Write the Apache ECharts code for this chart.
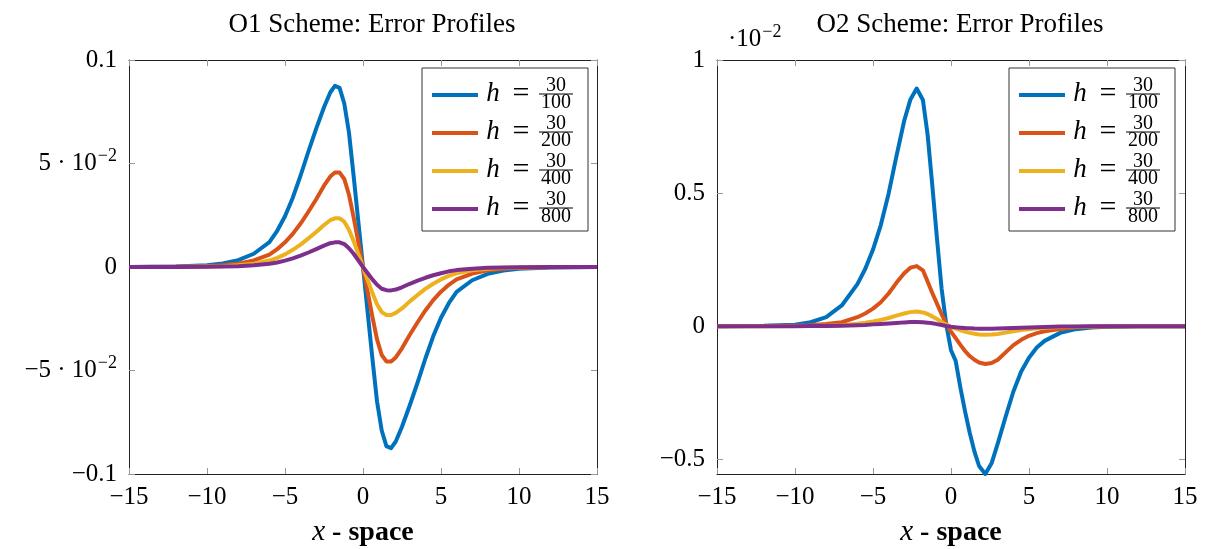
<!DOCTYPE html>
<html>
<head>
<meta charset="utf-8">
<script src="https://cdn.jsdelivr.net/npm/echarts@6/dist/echarts.min.js"></script>
<style>
html,body{margin:0;padding:0;background:#fff;}
#chart{width:1207px;height:549px;}
</style>
</head>
<body>
<div id="chart"></div>
<script>
// ---------- data ----------
const hNumerator = 30;
const hDenominators = [100, 200, 400, 800];
const seriesNames = hDenominators.map(d => 'h = ' + hNumerator + '/' + d);
const colors = ['#0072BD', '#D95319', '#EDB120', '#7E2F8E'];

const titles = ['O1 Scheme: Error Profiles', 'O2 Scheme: Error Profiles'];
const xTicks = [-15, -10, -5, 0, 5, 10, 15];
const o1YTicks = [-0.1, -0.05, 0, 0.05, 0.1];
const o2YTicks = [-0.5, 0, 0.5, 1];

// O1 scheme
const xO1 = [-15, -12, -10, -9, -8, -7, -6, -5.5, -5, -4.5, -4, -3.5, -3, -2.5, -2.1, -1.8, -1.5, -1.2, -0.9, -0.6, -0.3, 0,
  0.3, 0.6, 0.9, 1.2, 1.5, 1.8, 2.1, 2.5, 3, 3.5, 4, 4.5, 5, 5.5, 6, 7, 8, 9, 10, 12, 15];
const o1_h100 = [0, 0.0002, 0.0009, 0.0017, 0.0033, 0.0064, 0.012, 0.0175, 0.0245, 0.0335, 0.0442, 0.0558, 0.0668, 0.0772, 0.0843, 0.0875, 0.0865, 0.079, 0.065, 0.044, 0.022, 0,
  -0.022, -0.044, -0.065, -0.079, -0.0865, -0.0875, -0.0843, -0.0772, -0.0668, -0.0558, -0.0442, -0.0335, -0.0245, -0.0175, -0.012, -0.0064, -0.0033, -0.0017, -0.0009, -0.0002, 0];
const o1_h200 = [0, 0.0001, 0.0004, 0.0008, 0.0016, 0.0032, 0.006, 0.0086, 0.0119, 0.016, 0.021, 0.0267, 0.0327, 0.0393, 0.0437, 0.0457, 0.0456, 0.0425, 0.035, 0.024, 0.012, 0,
  -0.012, -0.024, -0.035, -0.0425, -0.0456, -0.0457, -0.0437, -0.0393, -0.0327, -0.0267, -0.021, -0.016, -0.0119, -0.0086, -0.006, -0.0032, -0.0016, -0.0008, -0.0004, -0.0001, 0];
const o1_h400 = [0, 0.00005, 0.0002, 0.0004, 0.0008, 0.0016, 0.0031, 0.0044, 0.0061, 0.0083, 0.0108, 0.0138, 0.0169, 0.0203, 0.0226, 0.0235, 0.0235, 0.0219, 0.018, 0.0125, 0.0063, 0,
  -0.0063, -0.0125, -0.018, -0.0218, -0.0232, -0.0232, -0.0222, -0.02, -0.0166, -0.0135, -0.0106, -0.0081, -0.006, -0.0043, -0.003, -0.0016, -0.0008, -0.0004, -0.0002, -0.00005, 0];
const o1_h800 = [0, 0.00003, 0.0001, 0.0002, 0.0004, 0.0008, 0.0016, 0.0022, 0.0031, 0.0042, 0.0055, 0.007, 0.0086, 0.0103, 0.0115, 0.0119, 0.0119, 0.0111, 0.0091, 0.0064, 0.0032, 0,
  -0.003, -0.006, -0.0086, -0.0105, -0.0112, -0.0113, -0.0109, -0.0098, -0.0081, -0.0066, -0.0052, -0.004, -0.003, -0.0021, -0.0015, -0.0008, -0.0004, -0.0002, -0.0001, 0, 0];

// O2 scheme (values in units of 10^-2)
const xO2 = [-15, -12, -10, -9, -8, -7, -6, -5.5, -5, -4.5, -4, -3.5, -3, -2.6, -2.2, -1.8, -1.5, -1.2, -0.9, -0.6, -0.3, 0,
  0.3, 0.6, 0.9, 1.2, 1.5, 1.8, 2.2, 2.6, 3, 3.5, 4, 4.5, 5, 5.5, 6, 7, 8, 9, 10, 12, 15];
const o2_h100 = [0, 0.002, 0.006, 0.015, 0.034, 0.078, 0.158, 0.215, 0.288, 0.38, 0.498, 0.638, 0.772, 0.852, 0.893, 0.85, 0.72, 0.53, 0.33, 0.14, 0.005, -0.09,
  -0.13, -0.23, -0.32, -0.4, -0.47, -0.525, -0.555, -0.515, -0.44, -0.34, -0.245, -0.17, -0.118, -0.08, -0.055, -0.025, -0.011, -0.005, -0.002, 0, 0];
const o2_h200 = [0, 0.0005, 0.002, 0.004, 0.008, 0.015, 0.034, 0.048, 0.066, 0.09, 0.123, 0.163, 0.199, 0.22, 0.226, 0.21, 0.168, 0.125, 0.085, 0.045, 0.008, -0.02,
  -0.045, -0.07, -0.093, -0.112, -0.126, -0.136, -0.142, -0.138, -0.126, -0.098, -0.071, -0.051, -0.036, -0.026, -0.019, -0.01, -0.004, -0.002, -0.001, 0, 0];
const o2_h400 = [0, 0.0002, 0.0006, 0.001, 0.002, 0.004, 0.009, 0.013, 0.018, 0.024, 0.031, 0.04, 0.048, 0.053, 0.055, 0.052, 0.046, 0.037, 0.027, 0.016, 0.006, -0.003,
  -0.009, -0.015, -0.02, -0.025, -0.028, -0.031, -0.032, -0.031, -0.029, -0.024, -0.019, -0.014, -0.011, -0.008, -0.006, -0.003, -0.0015, -0.0007, -0.0003, 0, 0];
const o2_h800 = [0, 0.0001, 0.0003, 0.0005, 0.001, 0.002, 0.004, 0.005, 0.007, 0.0085, 0.0105, 0.0125, 0.0145, 0.0155, 0.016, 0.0152, 0.0135, 0.011, 0.008, 0.0045, 0.001, -0.002,
  -0.004, -0.0055, -0.007, -0.008, -0.0088, -0.0092, -0.0094, -0.0093, -0.0088, -0.0078, -0.0066, -0.0054, -0.0043, -0.0034, -0.0026, -0.0014, -0.0007, -0.0003, -0.0001, 0, 0];

// ---------- chart ----------
const SERIF = '"Liberation Serif", "DejaVu Serif", serif';
const chart = echarts.init(document.getElementById('chart'), null, {renderer: 'canvas'});

const zip = (xs, ys) => xs.map((x, i) => [x, ys[i]]);
const o1Sets = [o1_h100, o1_h200, o1_h400, o1_h800];
const o2Sets = [o2_h100, o2_h200, o2_h400, o2_h800];

const minus = s => String(s).replace('-', '\u2212');

function lineSeries(xs, ys, idx, axisIdx) {
  return {
    type: 'line', name: seriesNames[idx], xAxisIndex: axisIdx, yAxisIndex: axisIdx,
    data: zip(xs, ys), showSymbol: false, symbol: 'none', smooth: false,
    lineStyle: {width: 4, color: colors[idx], join: 'round'},
    itemStyle: {color: colors[idx]},
    emphasis: {disabled: true}, clip: true, z: 2 + idx
  };
}

const tickStyle = {show: true, inside: true, length: 6, lineStyle: {color: '#999', width: 1}};
const axisLineStyle = {show: true, onZero: false, lineStyle: {color: '#222', width: 1}};
const labelBase = {color: '#000', fontFamily: SERIF, fontSize: 25};

function xAxes(grid) {
  return [
    {type: 'value', gridIndex: grid, position: 'bottom', min: -15, max: 15, interval: 5,
      axisLine: axisLineStyle, axisTick: tickStyle, splitLine: {show: false},
      axisLabel: Object.assign({}, labelBase, {margin: 11, showMinLabel: true, showMaxLabel: true,
        formatter: v => minus(Math.round(v))}),
      name: '{i|x}{b| - space}', nameLocation: 'middle', nameGap: 44,
      nameTextStyle: {rich: {
        i: {fontFamily: SERIF, fontStyle: 'italic', fontSize: 29, color: '#000'},
        b: {fontFamily: SERIF, fontWeight: 'bold', fontSize: 28, color: '#000'}
      }}},
    {type: 'value', gridIndex: grid, position: 'top', min: -15, max: 15, interval: 5,
      axisLine: axisLineStyle, axisTick: tickStyle, splitLine: {show: false}, axisLabel: {show: false}}
  ];
}

const supRich = {
  n: {fontFamily: SERIF, fontSize: 25, color: '#000'},
  s: {fontFamily: SERIF, fontSize: 18, color: '#000', padding: [0, 0, 15, 1]}
};

function o1Label(v) {
  const k = Math.round(v * 100);
  if (k === 10) return '{n|0.1}';
  if (k === -10) return '{n|\u22120.1}';
  if (k === 0) return '{n|0}';
  if (k === 5) return '{n|5 \u00B7 10}{s|\u22122}';
  if (k === -5) return '{n|\u22125 \u00B7 10}{s|\u22122}';
  return '';
}
function o2Label(v) {
  const k = Math.round(v * 10);
  if (k === 10) return '1';
  if (k === 5) return '0.5';
  if (k === 0) return '0';
  if (k === -5) return '\u22120.5';
  return '';
}

const legendRich = {
  h: {fontFamily: SERIF, fontStyle: 'italic', fontSize: 27, color: '#000', width: 20, align: 'center', lineHeight: 2},
  eq: {fontFamily: SERIF, fontSize: 30, color: '#000', width: 36, align: 'center', lineHeight: 2},
  bar: {width: 34, height: 1, lineHeight: 2, backgroundColor: '#000', fontSize: 1},
  sp: {width: 56, fontSize: 10, lineHeight: 14},
  num: {fontFamily: SERIF, fontSize: 20, color: '#000', width: 34, align: 'center', lineHeight: 14},
  den: {fontFamily: SERIF, fontSize: 20, color: '#000', width: 34, align: 'center', lineHeight: 16}
};
function legendFormatter(name) {
  const parts = name.split('/');
  const num = parts[0].replace('h = ', '');
  const den = parts[1];
  return '{sp| }{num|' + num + '}\n{h|h}{eq|=}{bar| }\n{sp| }{den|' + den + '}';
}
function legendAt(left) {
  return {
    data: seriesNames, left: left, top: 68, orient: 'vertical',
    itemWidth: 46, itemHeight: 4, itemGap: 1, icon: 'rect',
    padding: [8, 15, 4, 10], backgroundColor: '#fff', borderColor: '#333', borderWidth: 1, borderRadius: 0,
    selectedMode: false, formatter: legendFormatter,
    textStyle: {rich: legendRich, fontFamily: SERIF, color: '#000'}
  };
}

const option = {
  animation: false,
  backgroundColor: '#fff',
  title: [
    {text: titles[0], left: 367, top: 6, textAlign: 'center',
      textStyle: {fontFamily: SERIF, fontSize: 27, fontWeight: 'normal', color: '#000'}},
    {text: titles[1], left: 955, top: 6, textAlign: 'center',
      textStyle: {fontFamily: SERIF, fontSize: 27, fontWeight: 'normal', color: '#000'}}
  ],
  grid: [
    {left: 129, top: 60, width: 468, height: 414, containLabel: false, outerBoundsMode: 'none'},
    {left: 717, top: 60, width: 468, height: 414, containLabel: false, outerBoundsMode: 'none'}
  ],
  legend: [legendAt(422), legendAt(1009)],
  xAxis: xAxes(0).concat(xAxes(1)),
  yAxis: [
    {type: 'value', gridIndex: 0, position: 'left', min: -0.1, max: 0.1, interval: 0.05,
      axisLine: axisLineStyle, axisTick: tickStyle, splitLine: {show: false},
      axisLabel: {margin: 12, showMinLabel: true, showMaxLabel: true, formatter: o1Label, rich: supRich}},
    {type: 'value', gridIndex: 0, position: 'right', min: -0.1, max: 0.1, interval: 0.05,
      axisLine: axisLineStyle, axisTick: tickStyle, splitLine: {show: false}, axisLabel: {show: false}},
    {type: 'value', gridIndex: 1, position: 'left', min: -0.555, max: 1,
      axisLine: axisLineStyle, splitLine: {show: false},
      axisTick: Object.assign({}, tickStyle, {customValues: o2YTicks}),
      axisLabel: Object.assign({}, labelBase, {margin: 12, customValues: o2YTicks, formatter: o2Label})},
    {type: 'value', gridIndex: 1, position: 'right', min: -0.555, max: 1,
      axisLine: axisLineStyle, splitLine: {show: false},
      axisTick: Object.assign({}, tickStyle, {customValues: o2YTicks}), axisLabel: {show: false}}
  ],
  graphic: [
    {type: 'text', left: 728, top: 23,
      style: {text: '{n|\u00B710}{s|\u22122}', rich: supRich, fill: '#000'}}
  ],
  series: []
};

o1Sets.forEach((ys, i) => {
  const s = lineSeries(xO1, ys, i, 0);
  s.xAxisIndex = 0; s.yAxisIndex = 0;
  option.series.push(s);
});
o2Sets.forEach((ys, i) => {
  const s = lineSeries(xO2, ys, i, 2);
  s.xAxisIndex = 2; s.yAxisIndex = 2;
  option.series.push(s);
});

chart.setOption(option);
</script>
</body>
</html>
